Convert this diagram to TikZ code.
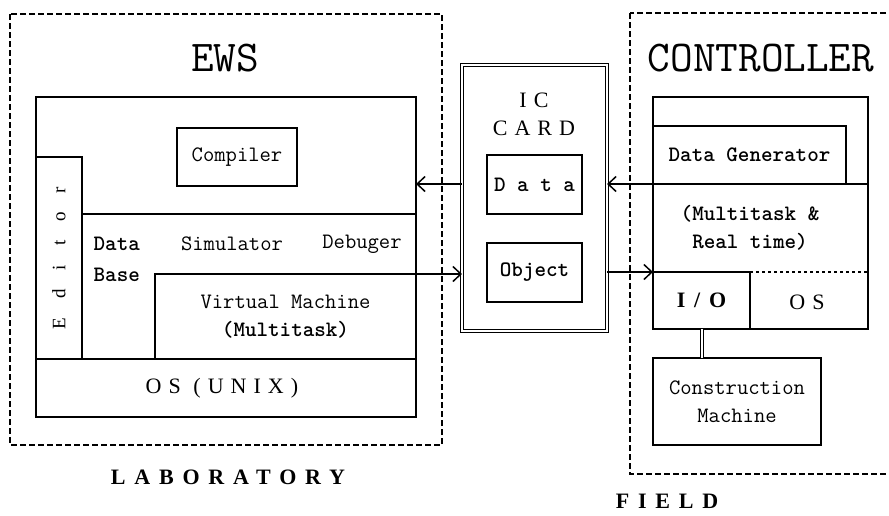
\documentclass[tikz,border=0pt]{standalone}
\usepackage{fontspec}
\newfontfamily\spfont[LetterSpace=32]{Liberation Serif}
\newfontfamily\spbold[LetterSpace=40]{Liberation Serif}
\newfontfamily\edfont[LetterSpace=100]{Liberation Serif}
\usetikzlibrary{arrows.meta}

\begin{document}
\begin{tikzpicture}[x=1pt,y=-1pt,
  line width=1.3pt,
  box/.style={draw,rectangle,inner sep=0pt,outer sep=0pt},
  txt/.style={font=\ttfamily\fontsize{22}{28}\selectfont,align=center,inner sep=0pt},
  title/.style={font=\ttfamily\fontsize{44}{48}\selectfont},
  spaced/.style={font=\spfont\fontsize{22}{28}\selectfont,align=center,inner sep=0pt},
  heading/.style={font=\spbold\bfseries\fontsize{22}{24}\selectfont,inner sep=0pt},
  region/.style={draw,dash pattern=on 6pt off 3pt,line width=1.3pt},
  flow/.style={-{Straight Barb[length=8pt,width=15pt,line width=1.5pt]},line width=1.5pt}]

  \useasboundingbox (0,0) rectangle (889,515);
  \clip (0,0) rectangle (889,515);

  % laboratory side
  \draw[region] (10,14) rectangle (442,445);
  \node[title] (ewst) at (225,58) {EWS};
  \node[box,minimum width=380pt,minimum height=320pt] (ews) at (226,257) {};
  \node[box,txt,minimum width=120pt,minimum height=58pt] (comp) at (237,157) {Compiler};
  \node[box,minimum width=46pt,minimum height=202pt] (edit) at (59,258) {};
  \node[rotate=90,font=\edfont\fontsize{19}{20}\selectfont] (editt) at (edit.center) {Editor};
  \draw (edit.east |- 0,214) -- (ews.east |- 0,214);
  \node[txt,anchor=west] (db) at (93,244) {\textbf{Data}};
  \node[txt,anchor=west] (base) at (93,275) {\textbf{Base}};
  \node[txt] (sim) at (232,244) {Simulator};
  \node[txt] (dbg) at (362,244) {Debuger};
  \node[box,txt,minimum width=261pt,minimum height=85pt] (vm) at (285.5,316.5) {Virtual Machine\\\textbf{(Multitask)}};
  \draw (ews.west |- vm.south) -- (ews.east |- vm.south);
  \node[spaced] (unix) at (222,388) {OS (UNIX)};
  \node[heading] (lab) at (228,477) {LABORATORY};

  % ic card
  \node[box,double,double distance=2pt,line width=1pt,minimum width=145pt,minimum height=266pt] (card) at (534.5,198) {};
  \node[spaced] (cardt) at (534,114) {IC\\CARD};
  \node[box,txt,minimum width=95pt,minimum height=59pt] (data) at (534.5,184.5) {\textbf{D a t a}};
  \node[box,txt,minimum width=95pt,minimum height=59pt] (obj) at (534.5,272.5) {\textbf{Object}};

  % field side
  \draw[region] (630,13) rectangle (900,474);
  \node[title] (ctrlt) at (761,58) {CONTROLLER};
  \node[box,minimum width=215pt,minimum height=232pt] (ctrl) at (760.5,213) {};
  \node[box,txt,minimum width=193pt,minimum height=58pt] (gen) at (749.5,155) {\textbf{Data Generator}};
  \draw (gen.south east) -- (ctrl.east |- gen.south);
  \node[txt] (mt) at (750,228) {\textbf{(Multitask \&}\\\textbf{Real time)}};
  \node[box,heading,minimum width=97pt,minimum height=57pt] (io) at (701.5,300.5) {I/O};
  \draw[dashed] (io.north east) -- (ctrl.east |- io.north);
  \node[spaced] (oss) at (807,302) {OS};
  \node[box,txt,minimum width=168pt,minimum height=87pt] (cm) at (737,401.5) {Construction\\Machine};
  \draw[double,double distance=2pt,line width=1pt] (io.south) -- (io.south |- cm.north);
  \node[heading] (fld) at (667,501) {FIELD};

  % transfers through the card
  \draw[flow] (ctrl.west |- gen.south) -- (card.east |- gen.south);
  \draw[flow] (card.west |- gen.south) -- (ews.east |- gen.south);
  \draw[flow] (ews.east |- vm.north) -- (card.west |- vm.north);
  \draw[flow] (card.east |- io.north) -- (ctrl.west |- io.north);
\end{tikzpicture}
\end{document}
